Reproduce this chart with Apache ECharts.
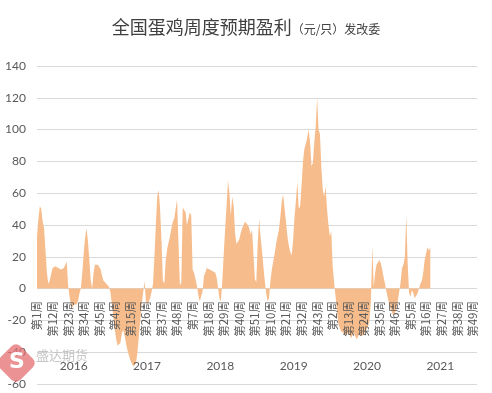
<!DOCTYPE html>
<html>
<head>
<meta charset="utf-8">
<script src="https://cdn.jsdelivr.net/npm/echarts@6/dist/echarts.min.js"></script>
<style>
html,body{margin:0;padding:0;background:#fff;}
#c{width:492px;height:393px;}
</style>
</head>
<body>
<div id="c"></div>
<script>
var years = ['2016', '2017', '2018', '2019', '2020', '2021'];
var weeksPerYear = 52;
var yTicks = { min: -60, max: 140, step: 20 };

var y2016 = [33, 44, 52, 50, 42, 38, 24, 10, 3, 5, 9, 13, 14, 14, 14, 13, 14, 12, 12, 13, 12, 17, 2, -5, -10, -12, -10, -9, -10, -8, -3, 0, 10, 22, 32, 38, 30, 18, 5, 0, 10, 15, 15, 15, 15, 12, 8, 5, 4, 3, 3, 1];
var y2017 = [-3, -10, -18, -26, -32, -36, -37, -34, -28, -26, -30, -35, -39, -42, -45, -47, -49, -50, -47, -40, -30, -20, -10, -3, 5, -8, -10, -9, -6, -2, 3, 20, 40, 58, 62, 50, 30, 5, 3, 18, 25, 29, 33, 38, 42, 44, 50, 56, 57, 2, 4, 51];
var y2018 = [50, 48, 40, 44, 48, 46, 12, 10, 6, 2, -4, -8, -8, -2, 8, 10, 13, 12, 12, 12, 11, 11, 10, 7, 0, -6, -8, 5, 22, 38, 52, 68, 60, 46, 58, 52, 35, 28, 29, 31, 35, 38, 40, 42, 41, 40, 38, 34, 37, 36, 6, 4];
var y2019 = [28, 44, 33, 24, 14, 5, -3, -8, -6, 5, 12, 17, 22, 28, 33, 37, 45, 55, 59, 50, 42, 33, 27, 23, 21, 30, 45, 55, 67, 50, 52, 65, 80, 88, 91, 95, 100, 92, 77, 79, 92, 102, 120, 100, 97, 76, 62, 58, 64, 50, 40, 33];
var y2020 = [36, 14, 4, -5, -14, -22, -25, -27, -26, -28, -30, -28, -27, -29, -31, -30, -28, -30, -32, -30, -28, -30, -31, -29, -27, -26, -24, -20, -8, 27, 1, 10, 15, 16, 18, 16, 12, 7, 3, -2, -6, -10, -13, -15, -17, -16, -13, -8, -2, 4, 13, 15];
var y2021 = [20, 46, 16, -3, -5, -1, -3, -6, -7, -3, 0, 3, 5, 10, 18, 22, 26, 24, 26];

var categories = [];
years.forEach(function (y) {
  for (var w = 1; w <= weeksPerYear; w++) categories.push('第' + w + '周');
});
var values = [].concat(y2016, y2017, y2018, y2019, y2020, y2021);
while (values.length < categories.length) values.push('-');

var chart = echarts.init(document.getElementById('c'));
var numFont = 'Lato, "Noto Sans CJK SC", sans-serif';
chart.setOption({
  animation: false,
  backgroundColor: '#ffffff',
  title: {
    left: 'center',
    top: 13,
    text: '{a|全国蛋鸡周度预期盈利}{b|（元/只）发改委}',
    textStyle: {
      rich: {
        a: { fontSize: 18, color: '#404040', fontFamily: '"Noto Sans CJK SC"', fontWeight: 'normal' },
        b: { fontSize: 12, color: '#404040', fontFamily: '"Noto Sans CJK SC"', fontWeight: 'normal', padding: [4, 0, 0, 0] }
      }
    }
  },
  grid: [
    { left: 37, right: 15, top: 66, bottom: 9, containLabel: false, outerBoundsMode: 'none' },
    { left: 37, right: 15, top: 352, height: 6, containLabel: false, outerBoundsMode: 'none' }
  ],
  xAxis: [{
    type: 'category',
    gridIndex: 0,
    data: categories,
    boundaryGap: false,
    position: 'bottom',
    offset: -95,
    z: 5,
    axisLine: { show: false, onZero: false },
    axisTick: { show: false },
    axisLabel: {
      show: true,
      interval: 10,
      rotate: 90,
      margin: 12,
      fontSize: 11.5,
      color: '#595959',
      fontFamily: '"Noto Sans CJK SC"',
      hideOverlap: false
    },
    splitLine: { show: false }
  }, {
    type: 'category',
    gridIndex: 1,
    data: years,
    position: 'bottom',
    boundaryGap: true,
    z: 5,
    axisLine: { show: false, onZero: false },
    axisTick: { show: false },
    axisLabel: { margin: 2, fontSize: 12, color: '#595959', fontFamily: numFont },
    splitLine: { show: false }
  }],
  yAxis: [{
    type: 'value',
    gridIndex: 0,
    min: yTicks.min,
    max: yTicks.max,
    interval: yTicks.step,
    axisLine: { show: false },
    axisTick: { show: false },
    axisLabel: { margin: 11, fontSize: 12, color: '#595959', fontFamily: numFont },
    splitLine: { lineStyle: { color: '#d9d9d9', width: 1 } }
  }, {
    type: 'value',
    gridIndex: 1,
    show: false
  }],
  graphic: [{
    type: 'rect',
    x: 16, y: 363,
    rotation: Math.PI / 4,
    shape: { x: -15, y: -15, width: 30, height: 30, r: 6 },
    style: { fill: '#e46e70', opacity: 0.75 },
    z: 10
  }, {
    type: 'text',
    x: 9, y: 351,
    style: { text: 'S', fill: '#ffffff', fontSize: 22, fontWeight: 'bold', fontFamily: 'DejaVu Sans' },
    z: 11
  }, {
    type: 'text',
    x: 36, y: 349,
    style: { text: '盛达期货', fill: '#c6c6c6', fontSize: 13, fontFamily: '"Noto Sans CJK SC"' },
    z: 10
  }],
  series: [{
    type: 'line',
    xAxisIndex: 0,
    yAxisIndex: 0,
    data: values,
    showSymbol: false,
    symbol: 'none',
    connectNulls: false,
    lineStyle: { width: 0, color: '#f6bc8b' },
    itemStyle: { color: '#f6bc8b' },
    areaStyle: { color: '#f6bc8b', opacity: 1 },
    z: 2
  }]
});
</script>
</body>
</html>
